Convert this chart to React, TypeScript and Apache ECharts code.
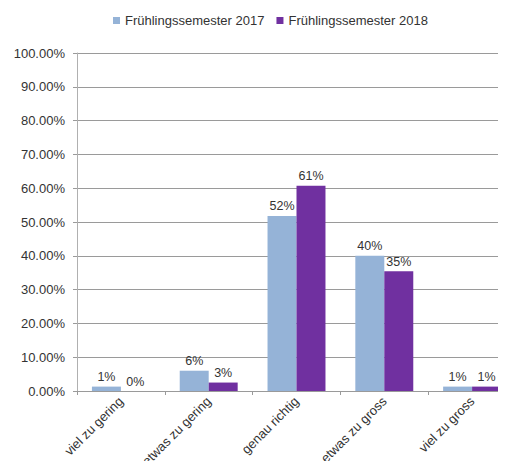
import React, { useEffect, useRef } from "react";
import * as echarts from "echarts";

const categories = ["viel zu gering", "etwas zu gering", "genau richtig", "etwas zu gross", "viel zu gross"];
const series2017 = [1.3, 6.0, 51.8, 40.0, 1.3];
const series2018 = [0.0, 2.5, 60.7, 35.4, 1.3];
const seriesNames = ["Frühlingssemester 2017", "Frühlingssemester 2018"];
const yTicks = { min: 0, max: 100, interval: 10 };

const FONT = "Liberation Sans, Arial, sans-serif";

export default function App() {
  const ref = useRef<HTMLDivElement>(null);
  useEffect(() => {
    if (!ref.current) return;
    const chart = echarts.init(ref.current, undefined, { renderer: "svg" });
    const label = {
      show: true,
      position: "top" as const,
      distance: 3,
      color: "#333",
      fontSize: 12.5,
      fontFamily: FONT,
      formatter: (p: any) => Math.round(p.value) + "%",
    };
    chart.setOption({
      animation: false,
      textStyle: { fontFamily: FONT },
      legend: {
        top: 1,
        left: 100,
        itemWidth: 7,
        itemHeight: 7,
        itemGap: 12,
        icon: "rect",
        textStyle: { fontSize: 13, color: "#333", fontFamily: FONT },
        data: seriesNames,
      },
      grid: {
        left: 69,
        right: -18,
        top: 45,
        bottom: 78,
        containLabel: false,
        outerBoundsMode: "none",
      },
      xAxis: {
        type: "category",
        data: categories,
        axisLine: { lineStyle: { color: "#9a9a9a", width: 1 } },
        axisTick: { show: true, length: 4, lineStyle: { color: "#9a9a9a" } },
        axisLabel: {
          rotate: 45,
          interval: 0,
          fontSize: 13,
          color: "#333",
          fontFamily: FONT,
          margin: 8,
        },
      },
      yAxis: {
        type: "value",
        min: yTicks.min,
        max: yTicks.max,
        interval: yTicks.interval,
        axisLine: { show: true, lineStyle: { color: "#b0b0b0", width: 1 } },
        axisTick: { show: true, length: 4, lineStyle: { color: "#9a9a9a" } },
        splitLine: { lineStyle: { color: "#9a9a9a", width: 1 } },
        axisLabel: {
          fontSize: 13,
          color: "#333",
          fontFamily: FONT,
          margin: 12,
          formatter: (v: number) => v.toFixed(2) + "%",
        },
      },
      series: [
        {
          name: seriesNames[0],
          type: "bar",
          data: series2017,
          itemStyle: { color: "#95b3d7" },
          barGap: "0%",
          barCategoryGap: "34%",
          label,
        },
        {
          name: seriesNames[1],
          type: "bar",
          data: series2018,
          itemStyle: { color: "#7030a0" },
          barGap: "0%",
          barCategoryGap: "34%",
          label,
        },
      ],
    });
    return () => chart.dispose();
  }, []);
  return (
    <div
      ref={ref}
      style={{ width: 490, height: 461, marginBottom: -8, overflow: "hidden" }}
    />
  );
}
